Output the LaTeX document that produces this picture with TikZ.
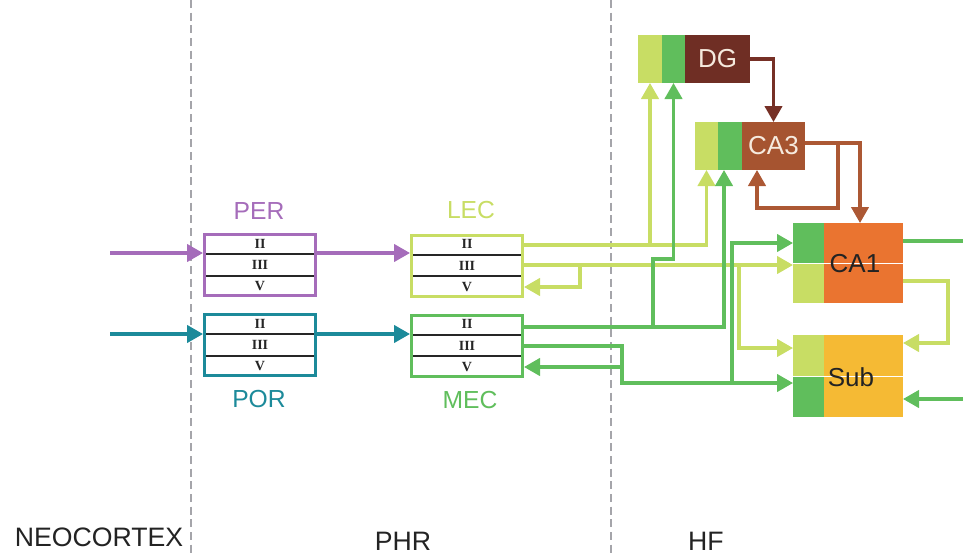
\documentclass[tikz,border=0pt]{standalone}
\usepackage{fontspec}
\setmainfont{Liberation Sans}
\newfontfamily\layerfont{Liberation Serif}
\usetikzlibrary{arrows.meta,calc}
\definecolor{perc}{RGB}{165,108,186}
\definecolor{porc}{RGB}{28,138,154}
\definecolor{lgc}{RGB}{200,221,100}
\definecolor{gc}{RGB}{96,190,92}
\definecolor{dgc}{RGB}{111,46,36}
\definecolor{cathree}{RGB}{166,84,48}
\definecolor{caone}{RGB}{234,116,48}
\definecolor{subc}{RGB}{245,186,52}
\definecolor{dashc}{RGB}{165,165,170}
\definecolor{dgarr}{RGB}{118,48,38}
\definecolor{caarr}{RGB}{172,88,52}
\definecolor{creamc}{RGB}{246,234,222}
\definecolor{textc}{RGB}{35,35,35}
\newcommand\ECbox[4]{%
  \node[ecbox=#2] (#1) at (#3,#4) {};
  \draw[layerline] ($(#1.north west)!1/3!(#1.south west)+(3,0)$) -- ($(#1.north east)!1/3!(#1.south east)+(-3,0)$);
  \draw[layerline] ($(#1.north west)!2/3!(#1.south west)+(3,0)$) -- ($(#1.north east)!2/3!(#1.south east)+(-3,0)$);
  \node[layerlab] (#1-II) at ($(#1.north)!1/6!(#1.south)$) {II};
  \node[layerlab] (#1-III) at (#1.center) {III};
  \node[layerlab] (#1-V) at ($(#1.north)!5/6!(#1.south)$) {V};
}
\begin{document}
\begin{tikzpicture}[x=0.75pt,y=-0.75pt,
  ecbox/.style={draw=#1,line width=2.25pt,minimum width=83.25pt,minimum height=45.75pt,inner sep=0pt,fill=white},
  layerline/.style={line width=1.3pt,draw=black!85},
  layerlab/.style={font=\layerfont\bfseries\fontsize{10.5}{10.5}\selectfont,inner sep=0pt,text=black!85},
  part/.style={fill=#1,inner sep=0pt,outer sep=0pt,draw=none},
  conn/.style={line width=2.4pt,draw=#1,-{Triangle[length=12pt,width=13pt]}},
  plain/.style={line width=2.4pt,draw=#1},
  region/.style={font=\fontsize{18.5}{20}\selectfont,text=#1,inner sep=0pt},
  bottomlab/.style={font=\fontsize{20}{22}\selectfont,text=textc,inner sep=0pt,anchor=base},
  boxlab/.style={font=\fontsize{19.5}{21}\selectfont,text=#1,inner sep=0pt},
  divider/.style={draw=dashc,line width=1.5pt,dash pattern=on 6pt off 3.5pt}
]
\useasboundingbox (0,0) rectangle (963,557);

% region dividers
\coordinate (d1top) at (191,0);
\coordinate (d1bot) at (191,557);
\coordinate (d2top) at (611,0);
\coordinate (d2bot) at (611,557);
\draw[divider] (d1top) -- (d1bot);
\draw[divider] (d2top) -- (d2bot);

% bottom labels
\node[bottomlab] (neo) at (99,546) {NEOCORTEX};
\node[bottomlab] (phr) at (403,550) {PHR};
\node[bottomlab] (hf) at (706,550) {HF};

% parahippocampal boxes
\ECbox{per}{perc}{260}{265}
\ECbox{por}{porc}{260}{345}
\ECbox{lec}{lgc}{467}{265.5}
\ECbox{mec}{gc}{467}{345.5}
\node[region=perc] (perlab) at (259,211) {PER};
\node[region=porc] (porlab) at (259,399) {POR};
\node[region=lgc] (leclab) at (471,210) {LEC};
\node[region=gc] (meclab) at (470,400) {MEC};

% hippocampal blocks
\node[part=lgc,minimum width=18pt,minimum height=36pt] (dgA) at (650,59) {};
\node[part=gc,minimum width=17.25pt,minimum height=36pt] (dgB) at (673.5,59) {};
\node[part=dgc,minimum width=48.75pt,minimum height=36pt,font=\fontsize{19.5}{21}\selectfont,text=creamc] (dg) at (717.5,59) {DG};

\node[part=lgc,minimum width=17.25pt,minimum height=36pt] (ca3A) at (706.5,146) {};
\node[part=gc,minimum width=18pt,minimum height=36pt] (ca3B) at (730,146) {};
\node[part=cathree,minimum width=47.25pt,minimum height=36pt,font=\fontsize{19.5}{21}\selectfont,text=creamc] (ca3) at (773.5,146) {CA3};

\node[part=gc,minimum width=23.25pt,minimum height=30pt] (ca1A) at (808.5,243) {};
\node[part=lgc,minimum width=23.25pt,minimum height=30pt] (ca1B) at (808.5,283) {};
\node[part=caone,minimum width=59.25pt,minimum height=60pt] (ca1) at (863.5,263) {};
\draw[white,line width=0.7pt] (ca1A.south west) -- (ca1.east);
\node[boxlab=textc] (ca1lab) at (855,264) {CA1};

\node[part=lgc,minimum width=23.25pt,minimum height=30.75pt] (subA) at (808.5,355.5) {};
\node[part=gc,minimum width=23.25pt,minimum height=30.75pt] (subB) at (808.5,396.5) {};
\node[part=subc,minimum width=59.25pt,minimum height=61.5pt] (sub) at (863.5,376) {};
\draw[white,line width=0.7pt] (subA.south west) -- (sub.east);
\node[boxlab=textc] (sublab) at (851,377) {Sub};

% neocortical inputs
\coordinate (perin) at (110,253);
\coordinate (porin) at (110,334);
\draw[conn=perc] (perin) -- (per.west |- perin);
\draw[conn=porc] (porin) -- (por.west |- porin);
\draw[conn=perc] (per.east |- perin) -- (lec.west |- perin);
\draw[conn=porc] (por.east |- porin) -- (mec.west |- porin);

% LEC projections
\coordinate (l2) at (lec.east |- 0,245);
\draw[conn=lgc] (l2) -| (dgA.south);
\draw[conn=lgc] (l2) -| (ca3A.south);
\coordinate (l3) at (lec.east |- 0,265);
\draw[conn=lgc] (l3) -- (ca1B.west |- l3);
\coordinate (lj) at (580,265);
\draw[conn=lgc] (lj) |- (lec.east |- 0,287);
\coordinate (lk) at (739,265);
\draw[conn=lgc] (lk) |- (subA.west |- 0,348);

% MEC projections
\coordinate (m2) at (mec.east |- 0,327);
\draw[conn=gc] (m2) -| (ca3B.south -| 724,0);
\coordinate (mb) at (653,327);
\coordinate (mbk) at (653,259);
\draw[conn=gc] (mb) -- (mbk) -| (dgB.south);
\coordinate (m3) at (mec.east |- 0,346);
\coordinate (mturn) at (622,383);
\draw[conn=gc] (m3) -| (mturn) -- (subB.west |- mturn);
\coordinate (mc) at (732,383);
\draw[conn=gc] (mc) |- (ca1A.west |- 0,243);
\coordinate (mv) at (622,367);
\draw[conn=gc] (mv) -- (mec.east |- mv);

% trisynaptic loop
\draw[conn=dgarr] (dg.east) -| (ca3.north);
\coordinate (c3out) at (ca3.east |- 0,143);
\draw[conn=caarr] (c3out) -| (ca1.north -| 860,0);
\coordinate (cr) at (838,143);
\coordinate (crb) at (757,208);
\draw[conn=caarr] (cr) |- (crb) -- (ca3.south -| crb);

% CA1 / Sub outputs
\coordinate (out1) at (963,241);
\draw[plain=gc] (ca1.east |- out1) -- (out1);
\coordinate (lp) at (948,281);
\draw[conn=lgc] (ca1.east |- lp) -- (lp) |- (sub.east |- 0,343);
\coordinate (in1) at (963,399);
\draw[conn=gc] (in1) -- (sub.east |- in1);
\end{tikzpicture}
\end{document}
